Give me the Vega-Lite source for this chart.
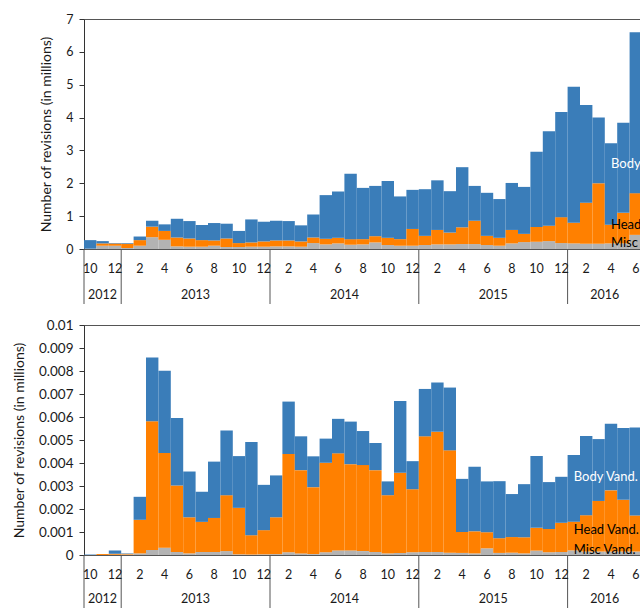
{
  "$schema": "https://vega.github.io/schema/vega-lite/v6.json",
  "padding": {"left": 11, "top": 12, "right": 0, "bottom": 0},
  "spacing": 12,
  "datasets": {
    "d": [
      {"m":"2012-10","misc":0.01,"head":0,"body":0.26,"misc_v":0,"head_v":0,"body_v":0.00002},
      {"m":"2012-11","misc":0.10,"head":0.07,"body":0.07,"misc_v":0,"head_v":0.00004,"body_v":0},
      {"m":"2012-12","misc":0.10,"head":0.07,"body":0.01,"misc_v":0.00001,"head_v":0.00004,"body_v":0.00015},
      {"m":"2013-01","misc":0.03,"head":0.13,"body":0.02,"misc_v":0.00002,"head_v":0.00003,"body_v":0.00002},
      {"m":"2013-02","misc":0.10,"head":0.17,"body":0.11,"misc_v":0.00007,"head_v":0.00146,"body_v":0.00100},
      {"m":"2013-03","misc":0.36,"head":0.32,"body":0.18,"misc_v":0.00022,"head_v":0.00559,"body_v":0.00278},
      {"m":"2013-04","misc":0.28,"head":0.27,"body":0.20,"misc_v":0.00032,"head_v":0.00411,"body_v":0.00358},
      {"m":"2013-05","misc":0.08,"head":0.27,"body":0.57,"misc_v":0.00013,"head_v":0.00289,"body_v":0.00294},
      {"m":"2013-06","misc":0.07,"head":0.25,"body":0.53,"misc_v":0.00007,"head_v":0.00157,"body_v":0.00199},
      {"m":"2013-07","misc":0.07,"head":0.20,"body":0.46,"misc_v":0.00013,"head_v":0.00131,"body_v":0.00131},
      {"m":"2013-08","misc":0.10,"head":0.16,"body":0.53,"misc_v":0.00013,"head_v":0.00148,"body_v":0.00245},
      {"m":"2013-09","misc":0.06,"head":0.26,"body":0.45,"misc_v":0.00017,"head_v":0.00243,"body_v":0.00281},
      {"m":"2013-10","misc":0.06,"head":0.12,"body":0.37,"misc_v":0.00003,"head_v":0.00202,"body_v":0.00225},
      {"m":"2013-11","misc":0.07,"head":0.13,"body":0.70,"misc_v":0.00002,"head_v":0.00084,"body_v":0.00405},
      {"m":"2013-12","misc":0.07,"head":0.16,"body":0.60,"misc_v":0.00003,"head_v":0.00105,"body_v":0.00197},
      {"m":"2014-01","misc":0.08,"head":0.18,"body":0.60,"misc_v":0.00004,"head_v":0.00160,"body_v":0.00182},
      {"m":"2014-02","misc":0.08,"head":0.18,"body":0.59,"misc_v":0.00012,"head_v":0.00427,"body_v":0.00228},
      {"m":"2014-03","misc":0.07,"head":0.16,"body":0.49,"misc_v":0.00007,"head_v":0.00362,"body_v":0.00147},
      {"m":"2014-04","misc":0.18,"head":0.17,"body":0.70,"misc_v":0.00004,"head_v":0.00291,"body_v":0.00134},
      {"m":"2014-05","misc":0.14,"head":0.17,"body":1.33,"misc_v":0.00012,"head_v":0.00389,"body_v":0.00105},
      {"m":"2014-06","misc":0.17,"head":0.17,"body":1.41,"misc_v":0.00020,"head_v":0.00422,"body_v":0.00150},
      {"m":"2014-07","misc":0.13,"head":0.17,"body":1.99,"misc_v":0.00020,"head_v":0.00375,"body_v":0.00185},
      {"m":"2014-08","misc":0.14,"head":0.16,"body":1.56,"misc_v":0.00017,"head_v":0.00374,"body_v":0.00148},
      {"m":"2014-09","misc":0.20,"head":0.19,"body":1.53,"misc_v":0.00013,"head_v":0.00356,"body_v":0.00118},
      {"m":"2014-10","misc":0.12,"head":0.22,"body":1.73,"misc_v":0.00007,"head_v":0.00253,"body_v":0.00060},
      {"m":"2014-11","misc":0.10,"head":0.20,"body":1.30,"misc_v":0.00009,"head_v":0.00349,"body_v":0.00312},
      {"m":"2014-12","misc":0.10,"head":0.51,"body":1.19,"misc_v":0.00012,"head_v":0.00274,"body_v":0.00122},
      {"m":"2015-01","misc":0.12,"head":0.28,"body":1.42,"misc_v":0.00013,"head_v":0.00503,"body_v":0.00206},
      {"m":"2015-02","misc":0.14,"head":0.44,"body":1.51,"misc_v":0.00013,"head_v":0.00523,"body_v":0.00214},
      {"m":"2015-03","misc":0.14,"head":0.36,"body":1.26,"misc_v":0.00010,"head_v":0.00445,"body_v":0.00273},
      {"m":"2015-04","misc":0.15,"head":0.51,"body":1.83,"misc_v":0.00009,"head_v":0.00091,"body_v":0.00231},
      {"m":"2015-05","misc":0.15,"head":0.71,"body":1.06,"misc_v":0.00007,"head_v":0.00096,"body_v":0.00281},
      {"m":"2015-06","misc":0.12,"head":0.28,"body":1.31,"misc_v":0.00029,"head_v":0.00070,"body_v":0.00221},
      {"m":"2015-07","misc":0.10,"head":0.24,"body":1.18,"misc_v":0.00009,"head_v":0.00064,"body_v":0.00248},
      {"m":"2015-08","misc":0.17,"head":0.41,"body":1.43,"misc_v":0.00010,"head_v":0.00068,"body_v":0.00187},
      {"m":"2015-09","misc":0.21,"head":0.25,"body":1.43,"misc_v":0.00007,"head_v":0.00070,"body_v":0.00231},
      {"m":"2015-10","misc":0.22,"head":0.45,"body":2.29,"misc_v":0.00019,"head_v":0.00099,"body_v":0.00312},
      {"m":"2015-11","misc":0.24,"head":0.47,"body":2.87,"misc_v":0.00012,"head_v":0.00101,"body_v":0.00204},
      {"m":"2015-12","misc":0.18,"head":0.79,"body":3.20,"misc_v":0.00013,"head_v":0.00127,"body_v":0.00200},
      {"m":"2016-01","misc":0.17,"head":0.63,"body":4.14,"misc_v":0.00020,"head_v":0.00125,"body_v":0.00290},
      {"m":"2016-02","misc":0.16,"head":1.25,"body":2.97,"misc_v":0.00015,"head_v":0.00158,"body_v":0.00344},
      {"m":"2016-03","misc":0.16,"head":1.84,"body":2.00,"misc_v":0.00015,"head_v":0.00220,"body_v":0.00269},
      {"m":"2016-04","misc":0.17,"head":0.57,"body":2.48,"misc_v":0.00015,"head_v":0.00266,"body_v":0.00290},
      {"m":"2016-05","misc":0.17,"head":0.93,"body":2.74,"misc_v":0.00015,"head_v":0.00225,"body_v":0.00312},
      {"m":"2016-06","misc":0.43,"head":1.27,"body":4.90,"misc_v":0.00015,"head_v":0.00157,"body_v":0.00382}
    ],
    "labels_top": [
      {"m": "2016-04", "label": "Body", "y": 2.6, "c": "white"},
      {"m": "2016-04", "label": "Head", "y": 0.73, "c": "black"},
      {"m": "2016-04", "label": "Misc", "y": 0.17, "c": "black"}
    ],
    "labels_bot": [
      {"m": "2016-01", "label": "Body Vand.", "y": 0.0034, "c": "white"},
      {"m": "2016-01", "label": "Head Vand.", "y": 0.00109, "c": "black"},
      {"m": "2016-01", "label": "Misc Vand.", "y": 0.00022, "c": "black"}
    ],
    "month_ticks": [
      {"m":"2012-10","t":"10"},{"m":"2012-12","t":"12"},
      {"m":"2013-02","t":"2"},{"m":"2013-04","t":"4"},{"m":"2013-06","t":"6"},{"m":"2013-08","t":"8"},{"m":"2013-10","t":"10"},{"m":"2013-12","t":"12"},
      {"m":"2014-02","t":"2"},{"m":"2014-04","t":"4"},{"m":"2014-06","t":"6"},{"m":"2014-08","t":"8"},{"m":"2014-10","t":"10"},{"m":"2014-12","t":"12"},
      {"m":"2015-02","t":"2"},{"m":"2015-04","t":"4"},{"m":"2015-06","t":"6"},{"m":"2015-08","t":"8"},{"m":"2015-10","t":"10"},{"m":"2015-12","t":"12"},
      {"m":"2016-02","t":"2"},{"m":"2016-04","t":"4"},{"m":"2016-06","t":"6"}
    ],
    "year_starts": [{"m":"2012-10"},{"m":"2013-01"},{"m":"2014-01"},{"m":"2015-01"},{"m":"2016-01"}],
    "year_first": [{"m":"2012-11","t":"2012"}],
    "year_rest": [{"m":"2013-07","t":"2013"},{"m":"2014-07","t":"2014"},{"m":"2015-07","t":"2015"},{"m":"2016-04","t":"2016"}]
  },
  "vconcat": [
    {
      "spacing": 0,
      "bounds": "flush",
      "resolve": {"scale": {"x": "shared"}},
      "vconcat": [
        {
          "width": 558,
          "height": 230,
          "layer": [
            {
              "data": {"name": "d"},
              "transform": [{"fold": ["misc", "head", "body"], "as": ["k", "v"]}],
              "mark": {"type": "bar"},
              "encoding": {
                "x": {"field": "m", "type": "ordinal", "scale": {"paddingInner": 0, "paddingOuter": 0}, "axis": null},
                "y": {"field": "v", "type": "quantitative", "stack": "zero",
                      "scale": {"domain": [0, 7], "nice": false},
                      "axis": {"title": "Number of revisions (in millions)", "values": [0,1,2,3,4,5,6,7], "labelOverlap": false, "labelFontSize": 12.5, "tickSize": 5, "labelPadding": 6, "titlePadding": 12}},
                "color": {"field": "k", "type": "nominal", "scale": {"domain": ["body", "head", "misc"], "range": ["#3A7DB9", "#FF8000", "#B3B3B3"]}, "legend": null},
                "order": {"field": "k", "sort": "descending"}
              }
            },
            {
              "data": {"name": "labels_top"},
              "mark": {"type": "text", "align": "left", "baseline": "middle", "fontSize": 13},
              "encoding": {
                "x": {"field": "m", "type": "ordinal", "axis": null},
                "y": {"field": "y", "type": "quantitative",
                      "axis": {"title": "Number of revisions (in millions)", "values": [0,1,2,3,4,5,6,7], "labelOverlap": false, "labelFontSize": 12.5, "tickSize": 5, "labelPadding": 6, "titlePadding": 12}},
                "text": {"field": "label"},
                "color": {"field": "c", "type": "nominal", "scale": null}
              }
            }
          ]
        },
        {
          "width": 558,
          "height": 55,
          "view": {"stroke": null},
          "layer": [
            {
              "data": {"name": "year_starts"},
              "mark": {"type": "rule", "color": "#555"},
              "encoding": {"x": {"field": "m", "type": "ordinal", "bandPosition": 0, "axis": null}}
            },
            {
              "data": {"name": "month_ticks"},
              "mark": {"type": "text", "fontSize": 12.5, "color": "#1a1a1a", "baseline": "middle"},
              "encoding": {"x": {"field": "m", "type": "ordinal", "axis": null}, "y": {"datum": 0.636, "type": "quantitative", "scale": {"domain": [0, 1], "nice": false}, "axis": null}, "text": {"field": "t"}}
            },
            {
              "data": {"name": "year_first"},
              "mark": {"type": "text", "fontSize": 12.5, "color": "#1a1a1a", "baseline": "middle"},
              "encoding": {"x": {"field": "m", "type": "ordinal", "bandPosition": 0.5, "axis": null}, "y": {"datum": 0.164, "type": "quantitative", "axis": null}, "text": {"field": "t"}}
            },
            {
              "data": {"name": "year_rest"},
              "mark": {"type": "text", "fontSize": 12.5, "color": "#1a1a1a", "baseline": "middle"},
              "encoding": {"x": {"field": "m", "type": "ordinal", "bandPosition": 0, "axis": null}, "y": {"datum": 0.164, "type": "quantitative", "axis": null}, "text": {"field": "t"}}
            }
          ]
        }
      ]
    },
    {
      "spacing": 0,
      "bounds": "flush",
      "resolve": {"scale": {"x": "shared"}},
      "vconcat": [
        {
          "width": 558,
          "height": 230,
          "layer": [
            {
              "data": {"name": "d"},
              "transform": [{"fold": ["misc_v", "head_v", "body_v"], "as": ["k", "v"]}],
              "mark": {"type": "bar"},
              "encoding": {
                "x": {"field": "m", "type": "ordinal", "scale": {"paddingInner": 0, "paddingOuter": 0}, "axis": null},
                "y": {"field": "v", "type": "quantitative", "stack": "zero",
                      "scale": {"domain": [0, 0.01], "nice": false},
                      "axis": {"title": "Number of revisions (in millions)", "values": [0,0.001,0.002,0.003,0.004,0.005,0.006,0.007,0.008,0.009,0.01], "format": "~g", "labelOverlap": false, "labelFontSize": 13.5, "tickSize": 5, "labelPadding": 6, "titlePadding": 12}},
                "color": {"field": "k", "type": "nominal", "scale": {"domain": ["body_v", "head_v", "misc_v"], "range": ["#3A7DB9", "#FF8000", "#B3B3B3"]}, "legend": null},
                "order": {"field": "k", "sort": "descending"}
              }
            },
            {
              "data": {"name": "labels_bot"},
              "mark": {"type": "text", "align": "left", "baseline": "middle", "fontSize": 13},
              "encoding": {
                "x": {"field": "m", "type": "ordinal", "axis": null},
                "y": {"field": "y", "type": "quantitative",
                      "axis": {"title": "Number of revisions (in millions)", "values": [0,0.001,0.002,0.003,0.004,0.005,0.006,0.007,0.008,0.009,0.01], "format": "~g", "labelOverlap": false, "labelFontSize": 13.5, "tickSize": 5, "labelPadding": 6, "titlePadding": 12}},
                "text": {"field": "label"},
                "color": {"field": "c", "type": "nominal", "scale": null}
              }
            }
          ]
        },
        {
          "width": 558,
          "height": 54,
          "view": {"stroke": null},
          "layer": [
            {
              "data": {"name": "year_starts"},
              "mark": {"type": "rule", "color": "#555"},
              "encoding": {"x": {"field": "m", "type": "ordinal", "bandPosition": 0, "axis": null}}
            },
            {
              "data": {"name": "month_ticks"},
              "mark": {"type": "text", "fontSize": 12.5, "color": "#1a1a1a", "baseline": "middle"},
              "encoding": {"x": {"field": "m", "type": "ordinal", "axis": null}, "y": {"datum": 0.63, "type": "quantitative", "scale": {"domain": [0, 1], "nice": false}, "axis": null}, "text": {"field": "t"}}
            },
            {
              "data": {"name": "year_first"},
              "mark": {"type": "text", "fontSize": 12.5, "color": "#1a1a1a", "baseline": "middle"},
              "encoding": {"x": {"field": "m", "type": "ordinal", "bandPosition": 0.5, "axis": null}, "y": {"datum": 0.18, "type": "quantitative", "axis": null}, "text": {"field": "t"}}
            },
            {
              "data": {"name": "year_rest"},
              "mark": {"type": "text", "fontSize": 12.5, "color": "#1a1a1a", "baseline": "middle"},
              "encoding": {"x": {"field": "m", "type": "ordinal", "bandPosition": 0, "axis": null}, "y": {"datum": 0.18, "type": "quantitative", "axis": null}, "text": {"field": "t"}}
            }
          ]
        }
      ]
    }
  ],
  "config": {
    "font": "Lato",
    "view": {"stroke": "#555"},
    "axis": {"labelFont": "Lato", "labelFontSize": 13, "labelColor": "#1a1a1a", "titleFont": "Lato", "titleFontSize": 14, "titleFontWeight": "normal", "titleColor": "#1a1a1a", "domainColor": "#333", "tickColor": "#333", "grid": false},
    "text": {"font": "Lato"}
  }
}
